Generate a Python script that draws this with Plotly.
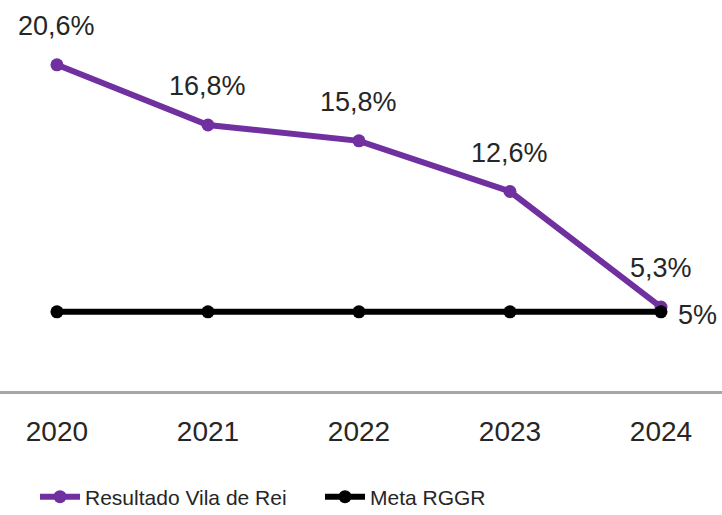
import plotly.graph_objects as go

years = ["2020", "2021", "2022", "2023", "2024"]
resultado = [20.6, 16.8, 15.8, 12.6, 5.3]
meta = [5, 5, 5, 5, 5]

FONT = "Liberation Sans, Arial, sans-serif"
PURPLE = "#7030A0"
TXT = "#262626"

def fmt(v):
    s = ("%.1f" % v).replace(".", ",")
    if s.endswith(",0"):
        s = s[:-2]
    return s + "%"

fig = go.Figure()
fig.add_trace(go.Scatter(x=years, y=resultado, mode="lines+markers", name="Resultado Vila de Rei",
                         line=dict(color=PURPLE, width=6), marker=dict(color=PURPLE, size=13)))
fig.add_trace(go.Scatter(x=years, y=meta, mode="lines+markers", name="Meta RGGR",
                         line=dict(color="black", width=6), marker=dict(color="black", size=13)))

for i, v in enumerate(resultado):
    fig.add_annotation(x=i, y=v, xref="x", yref="y", text=fmt(v), showarrow=False,
                       yshift=39, font=dict(family=FONT, size=27, color=TXT))
fig.add_annotation(x=len(years) - 1, y=meta[-1], xref="x", yref="y", text=fmt(meta[-1]),
                   showarrow=False, xanchor="left", xshift=15, yshift=-3,
                   font=dict(family=FONT, size=27, color=TXT))

fig.update_layout(
    width=722, height=515,
    margin=dict(l=0, r=0, t=11, b=124, autoexpand=False),
    paper_bgcolor="white", plot_bgcolor="white",
    showlegend=True,
    legend=dict(orientation="h", xref="container", yref="container", x=0.0485, xanchor="left",
                y=0.035, yanchor="middle", entrywidth=230, entrywidthmode="pixels",
                font=dict(family=FONT, size=21, color=TXT), itemwidth=40, tracegroupgap=0),
)
fig.update_xaxes(type="category", range=[-0.377, 4.404], showline=True, linecolor="#A6A6A6",
                 linewidth=3, showgrid=False, zeroline=False, ticks="outside", ticklen=13,
                 automargin=False,
                 tickcolor="rgba(0,0,0,0)", tickfont=dict(family=FONT, size=28, color=TXT))
fig.update_yaxes(range=[0, 24], visible=False, showgrid=False, zeroline=False, automargin=False)
fig.update_traces(cliponaxis=False)

fig.write_html("out.html", config={"displayModeBar": False},
               post_script="document.body.style.margin='0';")
